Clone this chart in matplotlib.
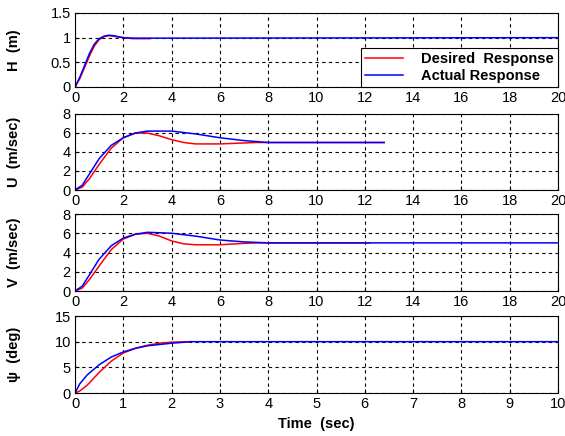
import matplotlib.pyplot as plt
import numpy as np

plt.rcParams['font.family'] = ['Liberation Sans', 'DejaVu Sans']

# H (m)
t_h_des = [0, 0.2, 0.4, 0.6, 0.8, 1.0, 1.2, 1.4, 1.6, 1.8, 2.0, 2.2, 2.4, 3.1]
h_des = [0, 0.17, 0.4, 0.63, 0.83, 0.96, 1.02, 1.04, 1.03, 1.01, 1.0, 0.99, 0.98, 0.98]
t_h_act = [0, 0.2, 0.4, 0.6, 0.8, 1.0, 1.2, 1.4, 1.6, 1.8, 2.0, 2.4, 3.1, 20]
h_act = [0, 0.2, 0.44, 0.68, 0.87, 0.98, 1.03, 1.05, 1.04, 1.02, 1.0, 0.99, 0.99, 1.0]

# U (m/sec)
t_u_des = [0, 0.3, 0.6, 1.0, 1.5, 2.0, 2.5, 3.0, 3.5, 4.0, 4.5, 5.0, 6.0, 7.0, 7.5, 12.8]
u_des = [0, 0.3, 1.2, 2.7, 4.4, 5.5, 6.0, 6.0, 5.7, 5.3, 5.0, 4.85, 4.85, 4.95, 5.0, 5.0]
t_u_act = [0, 0.3, 0.6, 1.0, 1.5, 2.0, 2.5, 3.0, 4.0, 5.0, 6.0, 7.0, 8.0, 12.8]
u_act = [0, 0.5, 1.7, 3.3, 4.7, 5.5, 6.0, 6.2, 6.2, 5.9, 5.5, 5.2, 5.0, 5.0]

# V (m/sec)
t_v_des = [0, 0.3, 0.6, 1.0, 1.5, 2.0, 2.5, 3.0, 3.5, 4.0, 4.5, 5.0, 6.0, 7.0, 7.5, 12.2]
v_des = [0, 0.3, 1.2, 2.6, 4.3, 5.4, 5.9, 6.0, 5.7, 5.2, 4.9, 4.8, 4.8, 4.95, 5.0, 5.0]
t_v_act = [0, 0.3, 0.6, 1.0, 1.5, 2.0, 2.5, 3.0, 4.0, 5.0, 6.0, 7.0, 8.0, 20]
v_act = [0, 0.5, 1.7, 3.3, 4.7, 5.5, 5.9, 6.1, 6.0, 5.7, 5.3, 5.1, 5.0, 5.0]

# psi (deg)
t_p_des = [0, 0.1, 0.25, 0.5, 0.75, 1.0, 1.25, 1.5, 1.75, 2.0, 2.4]
p_des = [0, 0.4, 1.5, 4.0, 6.2, 7.8, 8.7, 9.3, 9.7, 9.9, 10.0]
t_p_act = [0, 0.1, 0.25, 0.5, 0.75, 1.0, 1.25, 1.5, 2.0, 2.4, 10]
p_act = [0, 1.8, 3.5, 5.5, 7.0, 8.0, 8.7, 9.2, 9.7, 10.0, 10.0]

panels = [
    (t_h_des, h_des, t_h_act, h_act, 'H  (m)', [0, 0.5, 1, 1.5], ['0', '0.5', '1', '1.5'], 20),
    (t_u_des, u_des, t_u_act, u_act, 'U  (m/sec)', [0, 2, 4, 6, 8], None, 20),
    (t_v_des, v_des, t_v_act, v_act, 'V  (m/sec)', [0, 2, 4, 6, 8], None, 20),
    (t_p_des, p_des, t_p_act, p_act, '\u03c8  (deg)', [0, 5, 10, 15], None, 10),
]

fig = plt.figure(figsize=(5.65, 4.36), dpi=100)
W, H = 565.0, 436.0
tops = [13, 114, 214, 316]
bots = [87, 190, 291, 393]
left, right = 75, 558

for i, (td, yd, ta, ya, lab, yt, ytl, xmax) in enumerate(panels):
    ax = fig.add_axes([left / W, 1 - bots[i] / H, (right - left) / W, (bots[i] - tops[i]) / H])
    ax.plot(td, yd, color='r', lw=1.1, label='Desired  Response')
    ax.plot(ta, ya, color='b', lw=1.1, label='Actual Response')
    ax.set_xlim(0, xmax)
    ax.set_ylim(yt[0], yt[-1])
    ax.set_yticks(yt)
    if ytl:
        ax.set_yticklabels(ytl)
    ax.set_xticks(np.arange(0, xmax + 1, 2 if xmax == 20 else 1))
    ax.grid(True, color='k', linestyle=(0, (3, 3)), lw=0.8)
    ax.tick_params(direction='in', labelsize=10.5, length=3, pad=3)
    ax.set_ylabel(lab, fontsize=10.5, fontweight='bold')
    ax.yaxis.set_label_coords(-0.112, 0.5)
    for s in ax.spines.values():
        s.set_linewidth(0.8)
    if i == 0:
        leg = ax.legend(loc='lower right', prop={'weight': 'bold', 'size': 10.5},
                        fancybox=False, framealpha=1, edgecolor='k', borderaxespad=0,
                        handlelength=2.6, handletextpad=1.2, borderpad=0.3,
                        labelspacing=0.15)
        leg.get_frame().set_linewidth(0.8)
    if i == 3:
        ax.set_xlabel('Time  (sec)', fontsize=10.5, fontweight='bold')

fig.savefig('out.png', dpi=100)
